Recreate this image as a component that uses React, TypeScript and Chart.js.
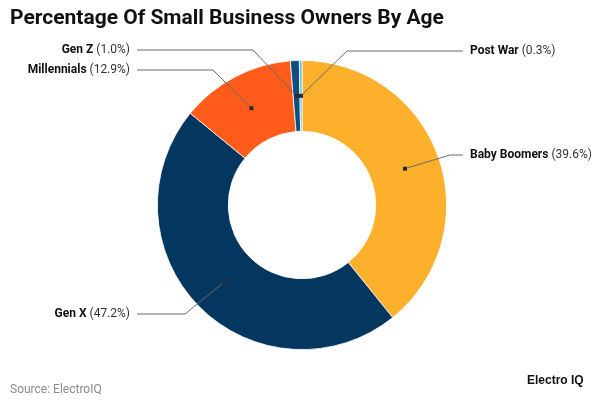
import React, { useEffect, useRef } from "react";
import { Chart, registerables } from "chart.js";

Chart.register(...registerables);

const categories = ["Baby Boomers", "Gen X", "Millennials", "Gen Z", "Post War"];
const shares = [39.6, 47.2, 12.9, 1.0, 0.3];
const shareLabels = ["39.6%", "47.2%", "12.9%", "1.0%", "0.3%"];
const colors = ["#FDB02C", "#03375F", "#FF5C1B", "#0E4E80", "#62B9EA"];

const TITLE = "Percentage Of Small Business Owners By Age";
const SOURCE = "Source: ElectroIQ";
const BRAND = "Electro IQ";

// leader-line layout: side, label line y, elbow x
const leaderLayout = [
  { side: "right", y: 155, elbowX: 450 },
  { side: "left", y: 314, elbowX: 185 },
  { side: "left", y: 70, elbowX: 213 },
  { side: "left", y: 50, elbowX: 253 },
  { side: "right", y: 51, elbowX: 347 },
];

const labelPlugin = {
  id: "leaderLabels",
  afterDatasetsDraw(chart: any) {
    const ctx = chart.ctx as CanvasRenderingContext2D;
    const meta = chart.getDatasetMeta(0);
    ctx.save();
    meta.data.forEach((arc: any, i: number) => {
      const p = arc.getCenterPoint();
      const lay = leaderLayout[i];
      const endX = lay.side === "left" ? 137 : 463;
      ctx.strokeStyle = "#6b6b6b";
      ctx.lineWidth = 1;
      ctx.beginPath();
      ctx.moveTo(p.x, p.y);
      ctx.lineTo(lay.elbowX, lay.y);
      ctx.lineTo(endX, lay.y);
      ctx.stroke();
      ctx.fillStyle = "#2b2b2b";
      ctx.fillRect(p.x - 2, p.y - 2, 4, 4);

      const name = categories[i];
      const val = " (" + shareLabels[i] + ")";
      ctx.textBaseline = "middle";
      ctx.font = "bold 12px Roboto";
      const wName = ctx.measureText(name).width;
      ctx.font = "12px Roboto";
      const wVal = ctx.measureText(val).width;
      const startX = lay.side === "left" ? 130 - wName - wVal : 470;
      ctx.textAlign = "left";
      ctx.fillStyle = "#111";
      ctx.font = "bold 12px Roboto";
      ctx.fillText(name, startX, lay.y);
      ctx.fillStyle = "#333";
      ctx.font = "12px Roboto";
      ctx.fillText(val, startX + wName, lay.y);
    });

    // title, source, brand
    ctx.textAlign = "left";
    ctx.textBaseline = "alphabetic";
    ctx.fillStyle = "#111";
    ctx.font = "bold 21px Roboto";
    ctx.fillText(TITLE, 10, 24);
    ctx.fillStyle = "#8a8a8a";
    ctx.font = "12px Roboto";
    ctx.fillText(SOURCE, 10, 393);
    ctx.fillStyle = "#111";
    ctx.font = "bold 12px 'Liberation Sans'";
    ctx.fillText(BRAND, 527, 384);
    ctx.restore();
  },
};

export default function App() {
  const ref = useRef<HTMLCanvasElement>(null);
  useEffect(() => {
    if (!ref.current) return;
    const chart = new Chart(ref.current, {
      type: "doughnut",
      data: {
        labels: categories,
        datasets: [
          {
            data: shares,
            backgroundColor: colors,
            borderColor: "#ffffff",
            borderWidth: 0.8,
          },
        ],
      },
      options: {
        responsive: true,
        maintainAspectRatio: false,
        animation: false,
        cutout: "51%",
        rotation: 0,
        layout: { padding: { top: 60, bottom: 50, left: 100, right: 96 } },
        plugins: {
          legend: { display: false },
          tooltip: { enabled: false },
          title: { display: false },
        },
      },
      plugins: [labelPlugin],
    });
    if ((document as any).fonts) {
      Promise.all([
        document.fonts.load("bold 21px Roboto"),
        document.fonts.load("12px Roboto"),
        document.fonts.load("bold 12px Roboto"),
      ]).then(() => chart.update()).catch(() => {});
    }
    return () => chart.destroy();
  }, []);
  return (
    <div style={{ position: "fixed", left: 0, top: 0, width: 600, height: 400, background: "#fff" }}>
      <canvas ref={ref} />
    </div>
  );
}
